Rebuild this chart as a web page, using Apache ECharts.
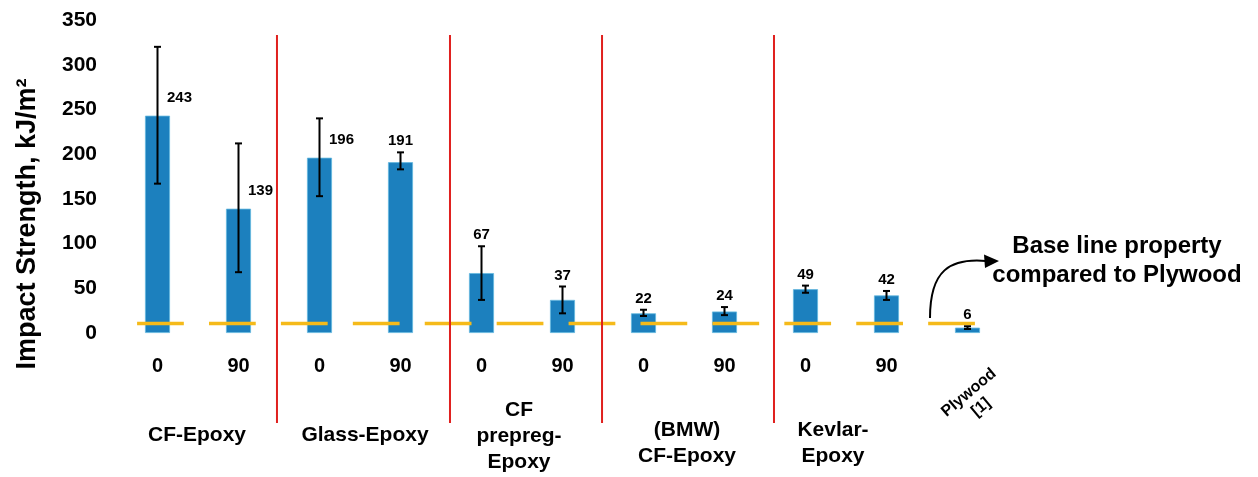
<!DOCTYPE html>
<html><head><meta charset="utf-8">
<script src="https://cdn.jsdelivr.net/npm/echarts@6.0.0/dist/echarts.min.js"></script>
<style>html,body{margin:0;padding:0;background:#fff}#c{width:1258px;height:477px}</style>
</head><body><div id="c"></div>
<script>
// ---- data ----
const categories = ['CF-Epoxy 0','CF-Epoxy 90','Glass-Epoxy 0','Glass-Epoxy 90','CF prepreg-Epoxy 0','CF prepreg-Epoxy 90','(BMW) CF-Epoxy 0','(BMW) CF-Epoxy 90','Kevlar-Epoxy 0','Kevlar-Epoxy 90','Plywood [1]'];
const tickLabels = ['0','90','0','90','0','90','0','90','0','90',''];
const values  = [243, 139, 196, 191, 67, 37, 22, 24, 49, 42, 6];
const errLow  = [167, 68, 153, 183, 37, 22, 19, 20, 45, 37, 4.5];
const errHigh = [320, 212, 240, 202, 97, 52, 26, 29, 53, 47, 7.5];
const baselineValue = 10.5;
const baselineSlots = ['b1','b2','b3','b4','b5','b6','b7','b8','b9','b10','b11','b12'];
const separatorPositions = [1.475, 3.611, 5.488, 7.611];
const groupLabels = ['CF-Epoxy', 'Glass-Epoxy', 'CF\nprepreg-\nEpoxy', '(BMW)\nCF-Epoxy', 'Kevlar-\nEpoxy'];
const plywoodLabel = 'Plywood\n[1]';
const yAxisTitle = 'Impact Strength, kJ/m²';
const annotation = 'Base line property\ncompared to Plywood';
const yMin = 0, yMax = 350, yInterval = 50;

// ---- chart ----
const FONT = "'Liberation Sans', Arial, sans-serif";
const chart = echarts.init(document.getElementById('c'), null, {renderer: 'canvas'});

const groupPos = [[197, 435], [365, 435], [519, 436], [687, 443], [833, 443]];

const graphics = [];
groupLabels.forEach((t, i) => {
  graphics.push({type: 'text', x: groupPos[i][0], y: groupPos[i][1], z: 10,
    style: {text: t, font: 'bold 21px ' + FONT, fill: '#000', align: 'center', verticalAlign: 'middle', lineHeight: 26}});
});
graphics.push({type: 'text', x: 975, y: 400, rotation: 40 * Math.PI / 180, z: 10,
  style: {text: plywoodLabel, font: 'bold 16px ' + FONT, fill: '#000', align: 'center', verticalAlign: 'middle', lineHeight: 19}});
graphics.push({type: 'text', x: 28, y: 224, rotation: Math.PI / 2, z: 10,
  style: {text: yAxisTitle, font: 'bold 27px ' + FONT, fill: '#000', align: 'center', verticalAlign: 'middle'}});
graphics.push({type: 'text', x: 1117, y: 261, z: 10,
  style: {text: annotation, font: 'bold 24px ' + FONT, fill: '#000', align: 'center', verticalAlign: 'middle', lineHeight: 29}});
graphics.push({type: 'bezierCurve', z: 10,
  shape: {x1: 930, y1: 318, cpx1: 930, cpy1: 270, x2: 986, y2: 261, cpx2: 950, cpy2: 258},
  style: {stroke: '#000', lineWidth: 2, fill: null}});
graphics.push({type: 'polygon', z: 10,
  shape: {points: [[999, 261], [984, 254.5], [985, 268]]}, style: {fill: '#000'}});

const option = {
  backgroundColor: '#fff',
  animation: false,
  textStyle: {fontFamily: FONT},
  grid: [
    {left: 117, width: 891, top: 20, bottom: 144},
    {left: 124.5, width: 863, top: 20, bottom: 144},
    {left: 117, width: 891, top: 35, bottom: 54}
  ],
  xAxis: [
    {type: 'category', gridIndex: 0, data: categories,
      axisLine: {show: false}, axisTick: {show: false}, splitLine: {show: false},
      axisLabel: {formatter: (v, i) => tickLabels[i], interval: 0, margin: 23,
        fontSize: 20, fontWeight: 'bold', color: '#000', fontFamily: FONT}},
    {type: 'category', gridIndex: 1, data: baselineSlots, show: false},
    {type: 'value', gridIndex: 2, min: -0.5, max: 10.5, show: false}
  ],
  yAxis: [
    {type: 'value', gridIndex: 0, min: yMin, max: yMax, interval: yInterval,
      axisLine: {show: false}, axisTick: {show: false}, splitLine: {show: false},
      axisLabel: {margin: 20, fontSize: 21, fontWeight: 'bold', color: '#000', fontFamily: FONT}},
    {type: 'value', gridIndex: 1, min: yMin, max: yMax, show: false},
    {type: 'value', gridIndex: 2, min: 0, max: 1, show: false}
  ],
  series: [
    {type: 'bar', xAxisIndex: 0, yAxisIndex: 0, data: values, barWidth: 25, z: 2,
      itemStyle: {color: '#1C80BE', borderColor: '#63B8DE', borderWidth: 0.8}},
    {type: 'custom', xAxisIndex: 1, yAxisIndex: 1, z: 4,
      data: baselineSlots.map((s, i) => [i, baselineValue]),
      renderItem: (params, api) => {
        const c = api.coord([api.value(0), api.value(1)]);
        const w = api.size([1, 0])[0] * 0.65;
        return {type: 'line', shape: {x1: c[0] - w / 2, y1: c[1], x2: c[0] + w / 2, y2: c[1]},
          style: {stroke: '#F5BA1A', lineWidth: 3.5}};
      }},
    {type: 'custom', xAxisIndex: 0, yAxisIndex: 0, z: 5,
      data: values.map((v, i) => [i, v, errLow[i], errHigh[i]]),
      renderItem: (params, api) => {
        const i = api.value(0);
        const top = api.coord([i, api.value(3)]);
        const bot = api.coord([i, api.value(2)]);
        const barTop = api.coord([i, api.value(1)]);
        const hw = 3.5;
        const st = {stroke: '#000', lineWidth: 2};
        const lbl = String(api.value(1));
        const tx = i < 3 ? barTop[0] + 22 : top[0];
        const ty = i < 3 ? barTop[1] - 18 : top[1] - 11;
        return {type: 'group', children: [
          {type: 'line', shape: {x1: top[0], y1: top[1], x2: bot[0], y2: bot[1]}, style: st},
          {type: 'line', shape: {x1: top[0] - hw, y1: top[1], x2: top[0] + hw, y2: top[1]}, style: st},
          {type: 'line', shape: {x1: bot[0] - hw, y1: bot[1], x2: bot[0] + hw, y2: bot[1]}, style: st},
          {type: 'text', x: tx, y: ty, style: {text: lbl, font: 'bold 15px ' + FONT, fill: '#000',
            align: 'center', verticalAlign: 'middle'}}
        ]};
      }},
    {type: 'custom', xAxisIndex: 2, yAxisIndex: 2, z: 6,
      data: separatorPositions.map(p => [p]),
      renderItem: (params, api) => {
        const a = api.coord([api.value(0), 0]);
        const b = api.coord([api.value(0), 1]);
        return {type: 'line', shape: {x1: a[0], y1: a[1], x2: b[0], y2: b[1]},
          style: {stroke: '#E0201E', lineWidth: 2}};
      }}
  ],
  graphic: graphics
};
chart.setOption(option);
</script></body></html>
